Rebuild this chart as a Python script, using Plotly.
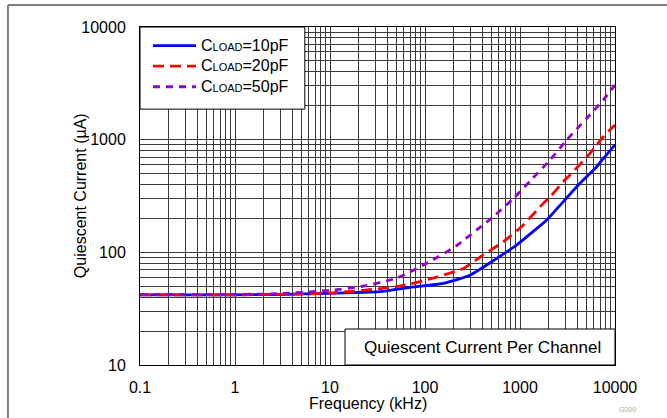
import plotly.graph_objects as go

# ---- data ----
freq_blue = [0.1, 1, 3, 10, 20, 34, 70, 155, 300, 570, 920, 1270, 1910, 2860, 4280, 6420, 7530, 10000]
iq_blue = [42, 42, 42.2, 43.3, 44, 44.7, 48.9, 53, 63, 88.5, 116, 145, 194, 282, 410, 575, 680, 900]

freq_red = [0.1, 1, 3, 10, 50, 113, 253, 411, 667, 1083, 1760, 2070, 2857, 3360, 5456, 7532, 10000]
iq_red = [42, 42, 42.4, 43.5, 49.5, 58, 72, 95, 124, 175, 272, 310, 424, 486, 757, 1062, 1350]

freq_purple = [0.1, 1, 3, 10, 22, 50, 113, 216, 350, 523, 850, 1280, 2070, 3100, 5040, 7530, 10000]
iq_purple = [42.3, 42.3, 43, 46, 50, 59, 83, 115, 158, 207, 300, 430, 660, 993, 1547, 2250, 3050]

series_names = [
    "<span style='font-size:16px'>C<span style='font-size:11px'>LOAD</span>=10pF</span>",
    "<span style='font-size:16px'>C<span style='font-size:11px'>LOAD</span>=20pF</span>",
    "<span style='font-size:16px'>C<span style='font-size:11px'>LOAD</span>=50pF</span>",
]
series_colors = ["#0000FF", "#FF0000", "#9400D3"]

x_decades = [0.1, 1, 10, 100, 1000, 10000]
x_tick_labels = ["0.1", "1", "10", "100", "1000", "10000"]
y_decades = [10, 100, 1000, 10000]
y_tick_labels = ["10", "100", "1000", "10000"]

FONT = "Liberation Sans, Arial, sans-serif"
FS = 16


def log_grid(decades, labels):
    vals, texts = [], []
    for i, d in enumerate(decades[:-1]):
        for k in range(1, 10):
            vals.append(d * k)
            texts.append(labels[i] if k == 1 else "")
    vals.append(decades[-1])
    texts.append(labels[-1])
    return vals, texts


xv, xt = log_grid(x_decades, x_tick_labels)
yv, yt = log_grid(y_decades, y_tick_labels)

fig = go.Figure()
fig.add_trace(go.Scatter(x=freq_blue, y=iq_blue, mode="lines", name=series_names[0],
                         line=dict(color=series_colors[0], width=2.8, shape="spline", smoothing=0.6)))
fig.add_trace(go.Scatter(x=freq_red, y=iq_red, mode="lines", name=series_names[1],
                         line=dict(color=series_colors[1], width=2.8, dash="11px,6px", shape="spline", smoothing=0.6)))
fig.add_trace(go.Scatter(x=freq_purple, y=iq_purple, mode="lines", name=series_names[2],
                         line=dict(color=series_colors[2], width=2.8, dash="7px,6px", shape="spline", smoothing=0.6)))

axis_common = dict(
    type="log", showgrid=True, gridcolor="#3a3a3a", gridwidth=1,
    showline=True, linecolor="black", linewidth=1, mirror=True,
    ticks="", zeroline=False, tickfont=dict(family=FONT, size=FS, color="black"),
)

fig.update_xaxes(range=[-1, 4], tickmode="array", tickvals=xv, ticktext=xt,
                 ticklabelstandoff=8, **axis_common)
fig.update_yaxes(range=[1, 4], tickmode="array", tickvals=yv, ticktext=yt,
                 ticklabelstandoff=10, **axis_common)

shapes = [
    # legend box (white, covers grid)
    dict(type="rect", xref="paper", yref="paper", x0=0, x1=0.347, y0=0.757, y1=1,
         fillcolor="white", line=dict(color="black", width=1), layer="above"),
    # white note box at bottom right (covers grid)
    dict(type="rect", xref="paper", yref="paper", x0=0.4316, x1=1, y0=0, y1=0.1065,
         fillcolor="white", line=dict(color="black", width=1), layer="above"),
    # outer frame (top and left)
    dict(type="line", xref="paper", yref="paper", x0=-0.278, x1=1.12, y0=1.065, y1=1.065,
         line=dict(color="#7f7f7f", width=2)),
    dict(type="line", xref="paper", yref="paper", x0=-0.278, x1=-0.278, y0=1.065, y1=-0.17,
         line=dict(color="#7f7f7f", width=2)),
]

annotations = [
    dict(text="Quiescent Current Per Channel", xref="paper", yref="paper", x=0.722, y=0.052,
         showarrow=False, font=dict(family=FONT, size=17, color="black"), xanchor="center", yanchor="middle"),
    dict(text="Quiescent Current (µA)", xref="paper", yref="paper", x=-0.126, y=0.5, textangle=-90,
         showarrow=False, font=dict(family=FONT, size=FS, color="black"), xanchor="center", yanchor="middle"),
    dict(text="Frequency (kHz)", xref="paper", yref="paper", x=0.48, y=-0.115,
         showarrow=False, font=dict(family=FONT, size=FS, color="black"), xanchor="center", yanchor="middle"),
    dict(text="G000", xref="paper", yref="paper", x=1.027, y=-0.133, showarrow=False,
         font=dict(family=FONT, size=7, color="#aaaaaa"), xanchor="center", yanchor="middle"),
]

fig.update_layout(
    width=667, height=418,
    margin=dict(l=140, r=52, t=27, b=53),
    plot_bgcolor="white", paper_bgcolor="white",
    font=dict(family=FONT, size=FS, color="black"),
    shapes=shapes, annotations=annotations,
    legend=dict(x=0.0168, y=0.99, xanchor="left", yanchor="top", bgcolor="rgba(0,0,0,0)",
                borderwidth=0, font=dict(family=FONT, size=13.5, color="black"),
                itemwidth=43, tracegroupgap=0),
    showlegend=True,
)

fig.write_html("out.html", post_script="document.body.style.margin='0';",
               config={"displayModeBar": False})
